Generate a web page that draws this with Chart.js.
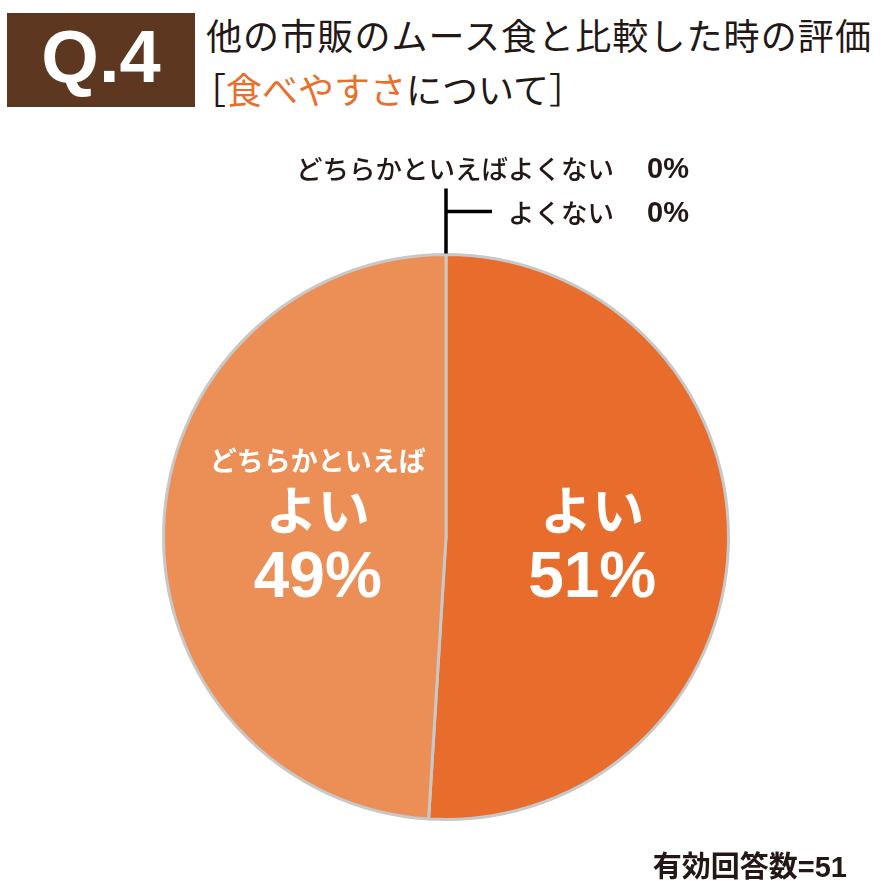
<!DOCTYPE html>
<html lang="ja">
<head>
<meta charset="utf-8">
<script src="https://cdn.jsdelivr.net/npm/chart.js@4/dist/chart.umd.min.js"></script>
<style>
  html, body { margin: 0; padding: 0; background: #fff; }
  body { width: 886px; height: 881px; position: relative; overflow: hidden; font-family: "Noto Sans CJK JP", sans-serif; }
  #qbox { position: absolute; left: 7px; top: 13px; width: 188px; height: 94px; background: #5e3720; }
  #qbox span { position: absolute; left: 0; right: 0; top: -3px; text-align: center; color: #fff;
    font: bold 74px "Liberation Sans", Arial, sans-serif; line-height: 94px; }
  .title { position: absolute; font-size: 36px; color: #231815; white-space: nowrap; line-height: 1; }
  #t1 { left: 206px; top: 16px; letter-spacing: 1.1px; }
  #t2 { left: 190px; top: 70px; }
  #t2 .hl { color: #e8702f; }
  #wrap { position: absolute; left: 0; top: 0; width: 886px; height: 881px; }
  #footer { position: absolute; right: 39px; top: 850px; font-size: 29px; font-weight: bold; color: #231815; line-height: 1; }
  #footer b { font-family: "Liberation Sans", Arial, sans-serif; }
</style>
</head>
<body>
<div id="qbox"><span>Q.4</span></div>
<div class="title" id="t1">他の市販のムース食と比較した時の評価</div>
<div class="title" id="t2">［<span class="hl">食べやすさ</span>について］</div>
<div id="wrap"><canvas id="pie"></canvas></div>
<div id="footer">有効回答数<b>=51</b></div>

<script>
// 回答データ (有効回答数=51)
const labels = ["よい", "どちらかといえばよい", "どちらかといえばよくない", "よくない"];
const counts = [26, 25, 0, 0];
const percents = [51, 49, 0, 0];
const colors = ["#e86c2c", "#ec8f56", "#d9d9d9", "#bfbfbf"];

// スライス内のラベル (行ごと)
const insideLines = [
    ["よい"],
    ["どちらかといえば", "よい"]
];

const ctx = document.getElementById("pie").getContext("2d");

// ラベル描画用プラグイン
const sliceLabels = {
    id: "sliceLabels",
    afterDraw(chart) {
        const c = chart.ctx;
        const arcs = chart.getDatasetMeta(0).data;
        c.save();
        c.textAlign = "center";
        c.textBaseline = "middle";

        // 値のあるスライス
        arcs.forEach((arc, i) => {
            if (counts[i] === 0) return;
            const mid = (arc.startAngle + arc.endAngle) / 2;
            const r = arc.outerRadius * 0.5;
            const dx = i === 0 ? 5 : 13;
            const x = arc.x + Math.cos(mid) * r + dx;
            const y = arc.y;
            c.fillStyle = "#ffffff";
            const lines = insideLines[i];
            if (lines.length > 1) {
                c.font = "bold 27px 'Noto Sans CJK JP'";
                c.fillText(lines[0], x, y - 76);
            }
            c.font = "bold 52px 'Noto Sans CJK JP'";
            c.fillText(lines[lines.length - 1], x, y - 27);
            c.font = "bold 64px 'Liberation Sans', Arial";
            c.fillText(percents[i] + "%", x, y + 42);
        });

        // 0%のスライス: 引き出し線とラベル
        const zero = arcs[2];
        const top = zero.y - zero.outerRadius;
        const lx = zero.x + zero.outerRadius * Math.cos(zero.startAngle);
        c.strokeStyle = "#000";
        c.lineWidth = 3.5;
        c.beginPath();
        c.moveTo(lx, top - 1);
        c.lineTo(lx, top - 66);
        c.moveTo(lx, top - 43);
        c.lineTo(lx + 46, top - 43);
        c.stroke();

        c.fillStyle = "#231815";
        c.textAlign = "right";
        c.font = "500 26.5px 'Noto Sans CJK JP'";
        c.fillText(labels[2], 614, top - 86);
        c.fillText(labels[3], 614, top - 42);
        c.font = "bold 29px 'Liberation Sans', Arial";
        c.fillText(percents[2] + "%", 689, top - 85);
        c.fillText(percents[3] + "%", 689, top - 41);
        c.restore();
    }
};

new Chart(ctx, {
    type: "pie",
    data: {
        labels: labels,
        datasets: [{
            data: counts,
            backgroundColor: colors,
            borderColor: "#c8c8c8",
            borderWidth: 3
        }]
    },
    options: {
        responsive: true,
        maintainAspectRatio: false,
        animation: false,
        layout: { padding: { left: 162, right: 156, top: 253, bottom: 60 } },
        plugins: {
            legend: { display: false },
            tooltip: { enabled: false }
        }
    },
    plugins: [sliceLabels]
});
</script>
</body>
</html>
